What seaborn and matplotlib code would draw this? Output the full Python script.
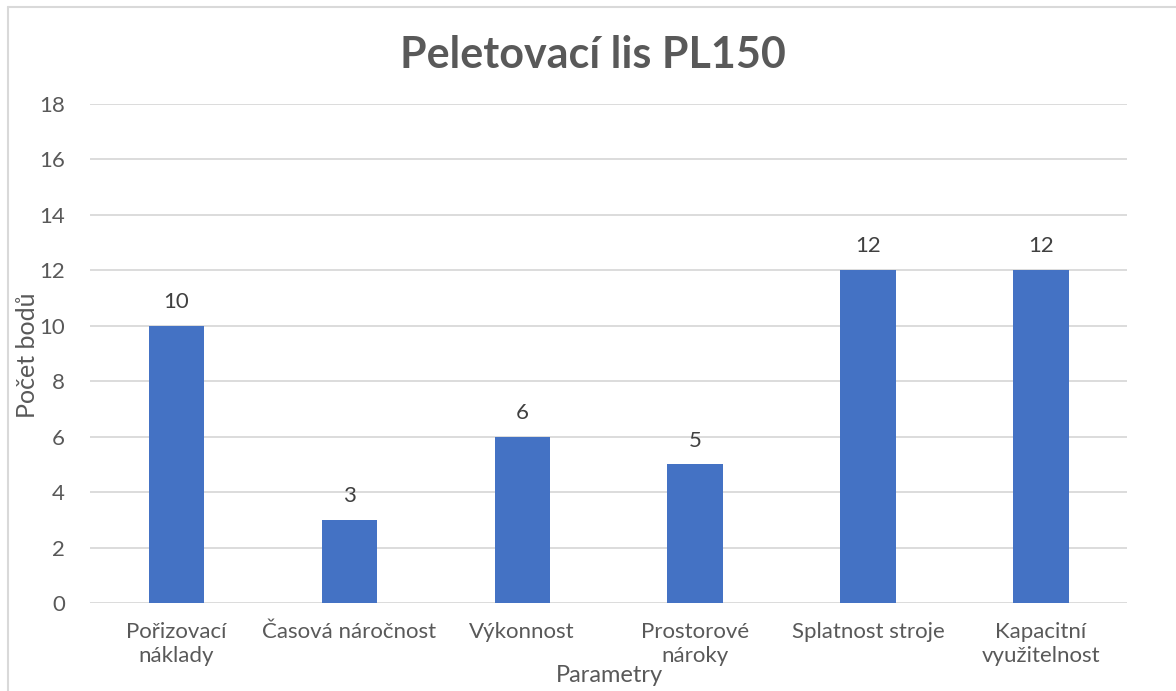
import matplotlib
matplotlib.use("Agg")
import matplotlib.pyplot as plt
import seaborn as sns
from matplotlib.lines import Line2D

# Data
kategorie = ["Pořizovací\nnáklady", "Časová náročnost", "Výkonnost",
             "Prostorové\nnároky", "Splatnost stroje", "Kapacitní\nvyužitelnost"]
body = [10, 3, 6, 5, 12, 12]
y_ticks = [0, 2, 4, 6, 8, 10, 12, 14, 16, 18]

sns.set_theme(style="white")
plt.rcParams['font.family'] = ['Lato', 'DejaVu Sans']

text_col = "#595959"
fig = plt.figure(figsize=(11.76, 6.91), dpi=100)
ax = fig.add_axes([0.0765, 0.1273, 0.8822, 0.7222])

sns.barplot(x=kategorie, y=body, color="#4472C4", saturation=1, width=0.32,
            linewidth=0, ax=ax)

ax.set_ylim(0, 18)
ax.set_xlim(-0.5, 5.5)
ax.set_yticks(y_ticks)
ax.yaxis.grid(True, color="#d9d9d9", linewidth=1.3)
ax.set_axisbelow(True)
for s in ax.spines.values():
    s.set_visible(False)
ax.tick_params(axis="both", length=0, labelsize=16, labelcolor=text_col)
ax.tick_params(axis="x", pad=14)
ax.tick_params(axis="y", pad=18)

# popisky hodnot
ax.bar_label(ax.containers[0], padding=10, fontsize=16, color="#404040")

ax.set_title("Peletovací lis PL150", fontsize=31, fontweight="bold", color=text_col,
             pad=26, x=0.485)
ax.set_xlabel("Parametry", fontsize=17, color=text_col, va="center")
ax.xaxis.set_label_coords(0.501, -0.145)
ax.set_ylabel("Počet bodů", fontsize=18, color=text_col, va="center")
ax.yaxis.set_label_coords(-0.06, 0.497)

# rámeček grafu
fig.add_artist(Line2D([8/1176, 8/1176], [0, 1 - 7/691], color="#d9d9d9", linewidth=1.5, transform=fig.transFigure))
fig.add_artist(Line2D([8/1176, 1], [1 - 7/691, 1 - 7/691], color="#d9d9d9", linewidth=1.5, transform=fig.transFigure))

fig.savefig("out.png", dpi=100)
